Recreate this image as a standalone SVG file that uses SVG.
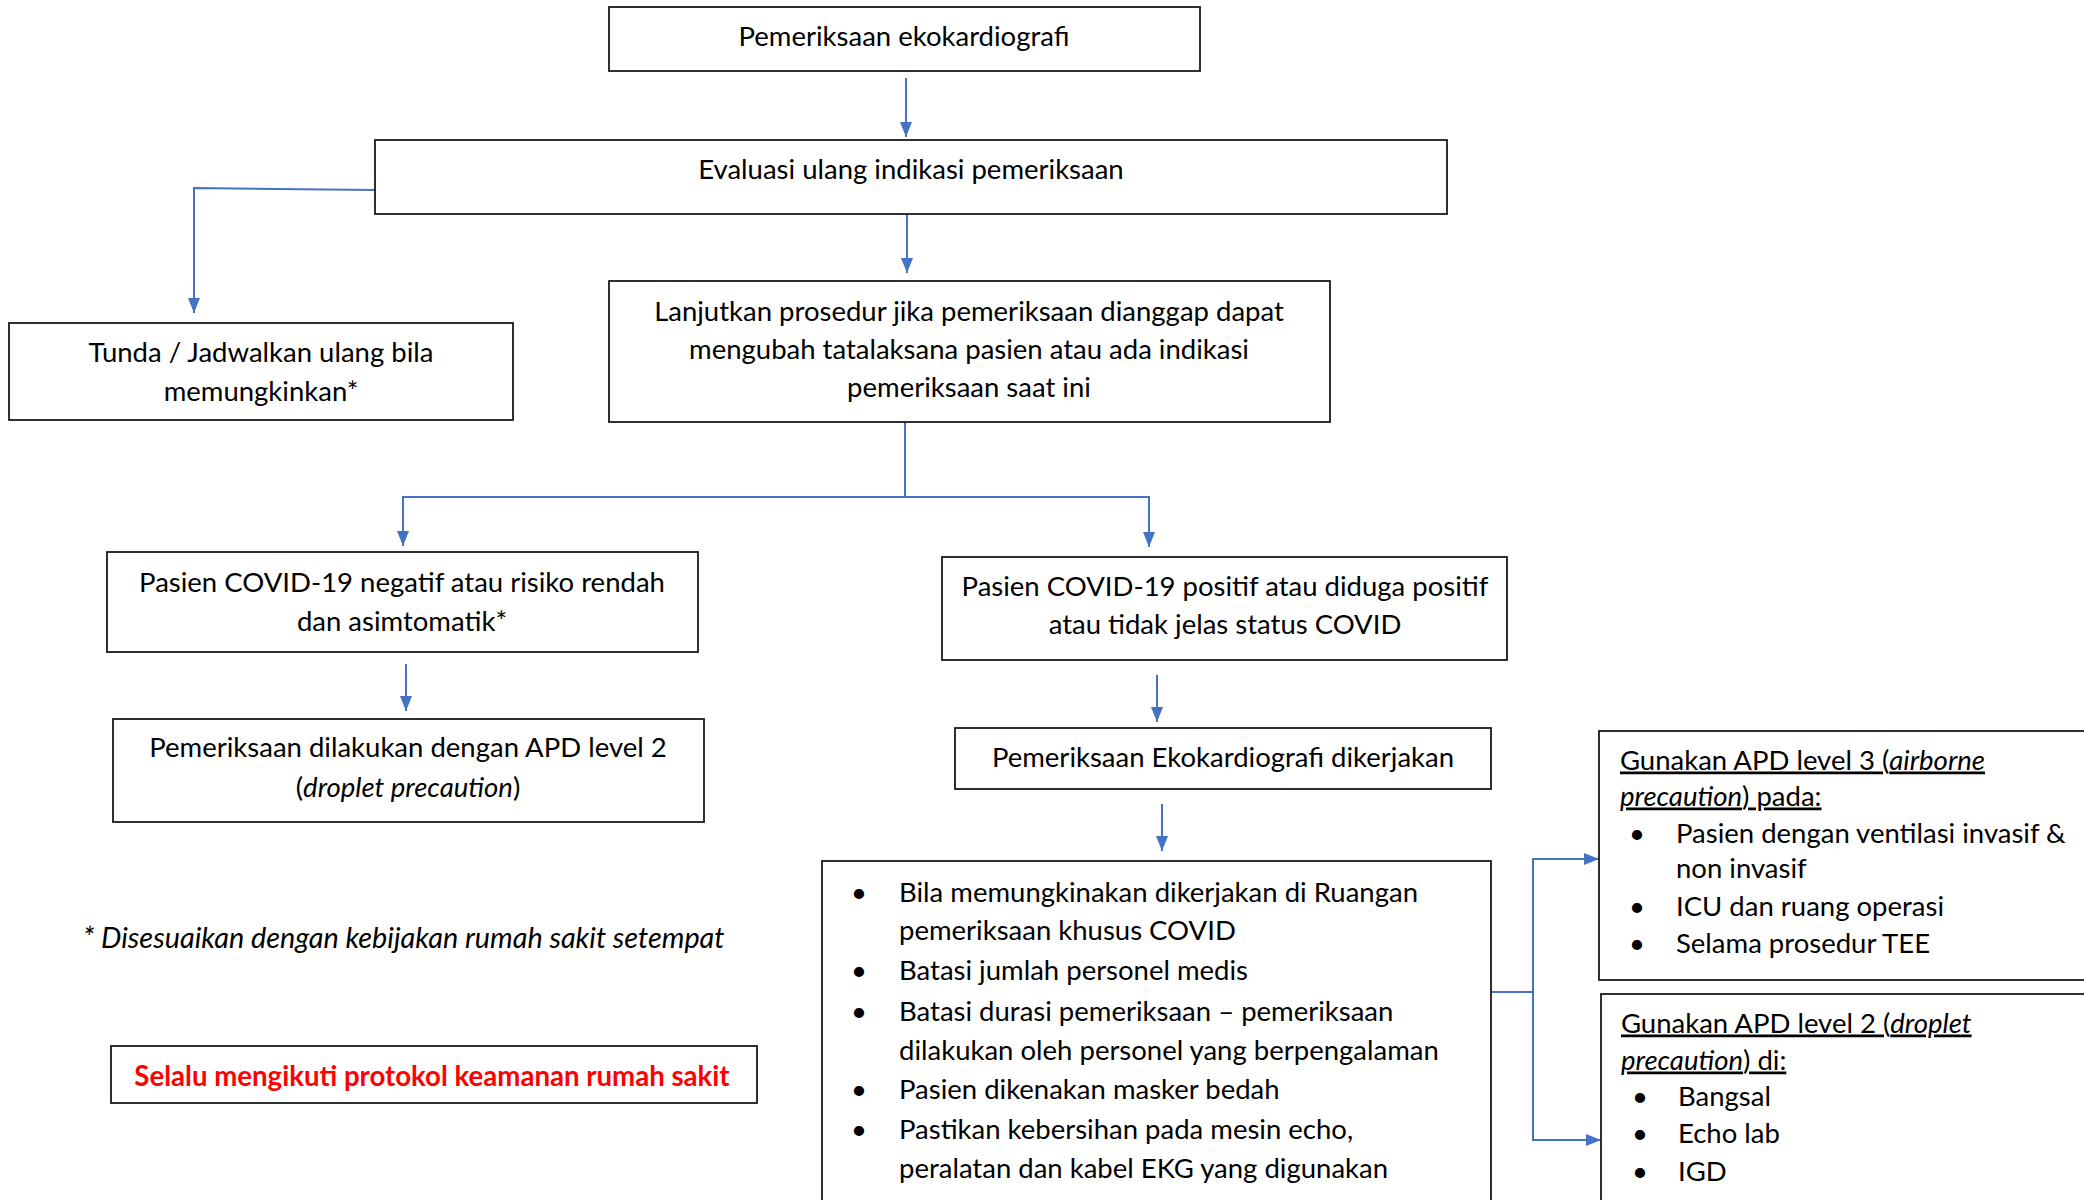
<svg xmlns="http://www.w3.org/2000/svg" width="2084" height="1200" viewBox="0 0 2084 1200">
<style>
text{font-family:Lato,"Open Sans","Liberation Sans",sans-serif;font-size:27.5px;fill:#000}
.c{text-anchor:middle}
.box{fill:#fff;stroke:#1a1a1a;stroke-width:1.8}
.con{fill:none;stroke:#4472C4;stroke-width:2}
.u{text-decoration:underline}
.i{font-style:italic}
.note{font-style:italic;font-size:28.8px}
.red{fill:#ff0000;font-weight:bold;font-size:27.6px}
</style>
<defs>
<marker id="ah" markerUnits="userSpaceOnUse" markerWidth="15" markerHeight="12" refX="15" refY="6" orient="auto">
<path d="M0,0 L15,6 L0,12 z" fill="#4472C4"/>
</marker>
</defs>
<rect width="2084" height="1200" fill="#fff"/>
<g id="connectors">
<path class="con" d="M906,78 V137" marker-end="url(#ah)"/>
<path class="con" d="M375,190 L194,188 V313" marker-end="url(#ah)"/>
<path class="con" d="M907,214 V273" marker-end="url(#ah)"/>
<path class="con" d="M905,422 V497 H403 V546" marker-end="url(#ah)"/>
<path class="con" d="M905,497 H1149 V547" marker-end="url(#ah)"/>
<path class="con" d="M406,664 V711" marker-end="url(#ah)"/>
<path class="con" d="M1157,675 V722" marker-end="url(#ah)"/>
<path class="con" d="M1162,804 V851" marker-end="url(#ah)"/>
<path class="con" d="M1492,992 H1533"/>
<path class="con" d="M1533,992 V859 H1599" marker-end="url(#ah)"/>
<path class="con" d="M1533,992 V1140 H1601" marker-end="url(#ah)"/>
</g>
<g id="n1">
<rect class="box" x="609" y="7" width="591" height="64"/>
<text class="c" x="904" y="45.5">Pemeriksaan ekokardiografi</text>
</g>
<g id="n2">
<rect class="box" x="375" y="140" width="1072" height="74"/>
<text class="c" x="911" y="178.5">Evaluasi ulang indikasi pemeriksaan</text>
</g>
<g id="n3">
<rect class="box" x="9" y="323" width="504" height="97"/>
<text class="c" x="261" y="361.5">Tunda / Jadwalkan ulang bila</text>
<text class="c" x="261" y="400.5">memungkinkan*</text>
</g>
<g id="n4">
<rect class="box" x="609" y="281" width="721" height="141"/>
<text class="c" x="969" y="320.5">Lanjutkan prosedur jika pemeriksaan dianggap dapat</text>
<text class="c" x="969" y="358.5">mengubah tatalaksana pasien atau ada indikasi</text>
<text class="c" x="969" y="396.5">pemeriksaan saat ini</text>
</g>
<g id="n5">
<rect class="box" x="107" y="552" width="591" height="100"/>
<text class="c" x="402" y="591.5">Pasien COVID-19 negatif atau risiko rendah</text>
<text class="c" x="402" y="630.5">dan asimtomatik*</text>
</g>
<g id="n6">
<rect class="box" x="942" y="557" width="565" height="103"/>
<text class="c" x="1225" y="595.5">Pasien COVID-19 positif atau diduga positif</text>
<text class="c" x="1225" y="633.5">atau tidak jelas status COVID</text>
</g>
<g id="n7">
<rect class="box" x="113" y="719" width="591" height="103"/>
<text class="c" x="408" y="756.5">Pemeriksaan dilakukan dengan APD level 2</text>
<text class="c" x="408" y="796.5">(<tspan class="i">droplet precaution</tspan>)</text>
</g>
<g id="n8">
<rect class="box" x="955" y="728" width="536" height="61"/>
<text class="c" x="1223" y="766.5">Pemeriksaan Ekokardiografi dikerjakan</text>
</g>
<g id="n9">
<rect class="box" x="822" y="861" width="669" height="360"/>
<text x="851" y="901.5">•</text><text x="899" y="901.5">Bila memungkinakan dikerjakan di Ruangan</text>
<text x="899" y="939.5">pemeriksaan khusus COVID</text>
<text x="851" y="979.5">•</text><text x="899" y="979.5">Batasi jumlah personel medis</text>
<text x="851" y="1020.5">•</text><text x="899" y="1020.5">Batasi durasi pemeriksaan – pemeriksaan</text>
<text x="899" y="1059.5">dilakukan oleh personel yang berpengalaman</text>
<text x="851" y="1098.5">•</text><text x="899" y="1098.5">Pasien dikenakan masker bedah</text>
<text x="851" y="1138.5">•</text><text x="899" y="1138.5">Pastikan kebersihan pada mesin echo,</text>
<text x="899" y="1177.5">peralatan dan kabel EKG yang digunakan</text>
</g>
<g id="n10">
<rect class="box" x="1599" y="731" width="500" height="249"/>
<text class="u" x="1620" y="769.5">Gunakan APD level 3 (<tspan class="i">airborne</tspan></text>
<text class="u" x="1620" y="805.5"><tspan class="i">precaution</tspan>) pada:</text>
<text x="1629" y="842.5">•</text><text x="1676" y="842.5">Pasien dengan ventilasi invasif &amp;</text>
<text x="1676" y="877.5">non invasif</text>
<text x="1629" y="915.5">•</text><text x="1676" y="915.5">ICU dan ruang operasi</text>
<text x="1629" y="952.5">•</text><text x="1676" y="952.5">Selama prosedur TEE</text>
</g>
<g id="n11">
<rect class="box" x="1601" y="994" width="500" height="230"/>
<text class="u" x="1621" y="1032.5">Gunakan APD level 2 (<tspan class="i">droplet</tspan></text>
<text class="u" x="1621" y="1069.5"><tspan class="i">precaution</tspan>) di:</text>
<text x="1632" y="1105.5">•</text><text x="1678" y="1105.5">Bangsal</text>
<text x="1632" y="1142.5">•</text><text x="1678" y="1142.5">Echo lab</text>
<text x="1632" y="1180.5">•</text><text x="1678" y="1180.5">IGD</text>
</g>
<g id="note">
<text class="note" x="83" y="947.5">* Disesuaikan dengan kebijakan rumah sakit setempat</text>
</g>
<g id="n12">
<rect class="box" x="111" y="1046" width="646" height="57"/>
<text class="c red" x="432" y="1085.5">Selalu mengikuti protokol keamanan rumah sakit</text>
</g>
</svg>
